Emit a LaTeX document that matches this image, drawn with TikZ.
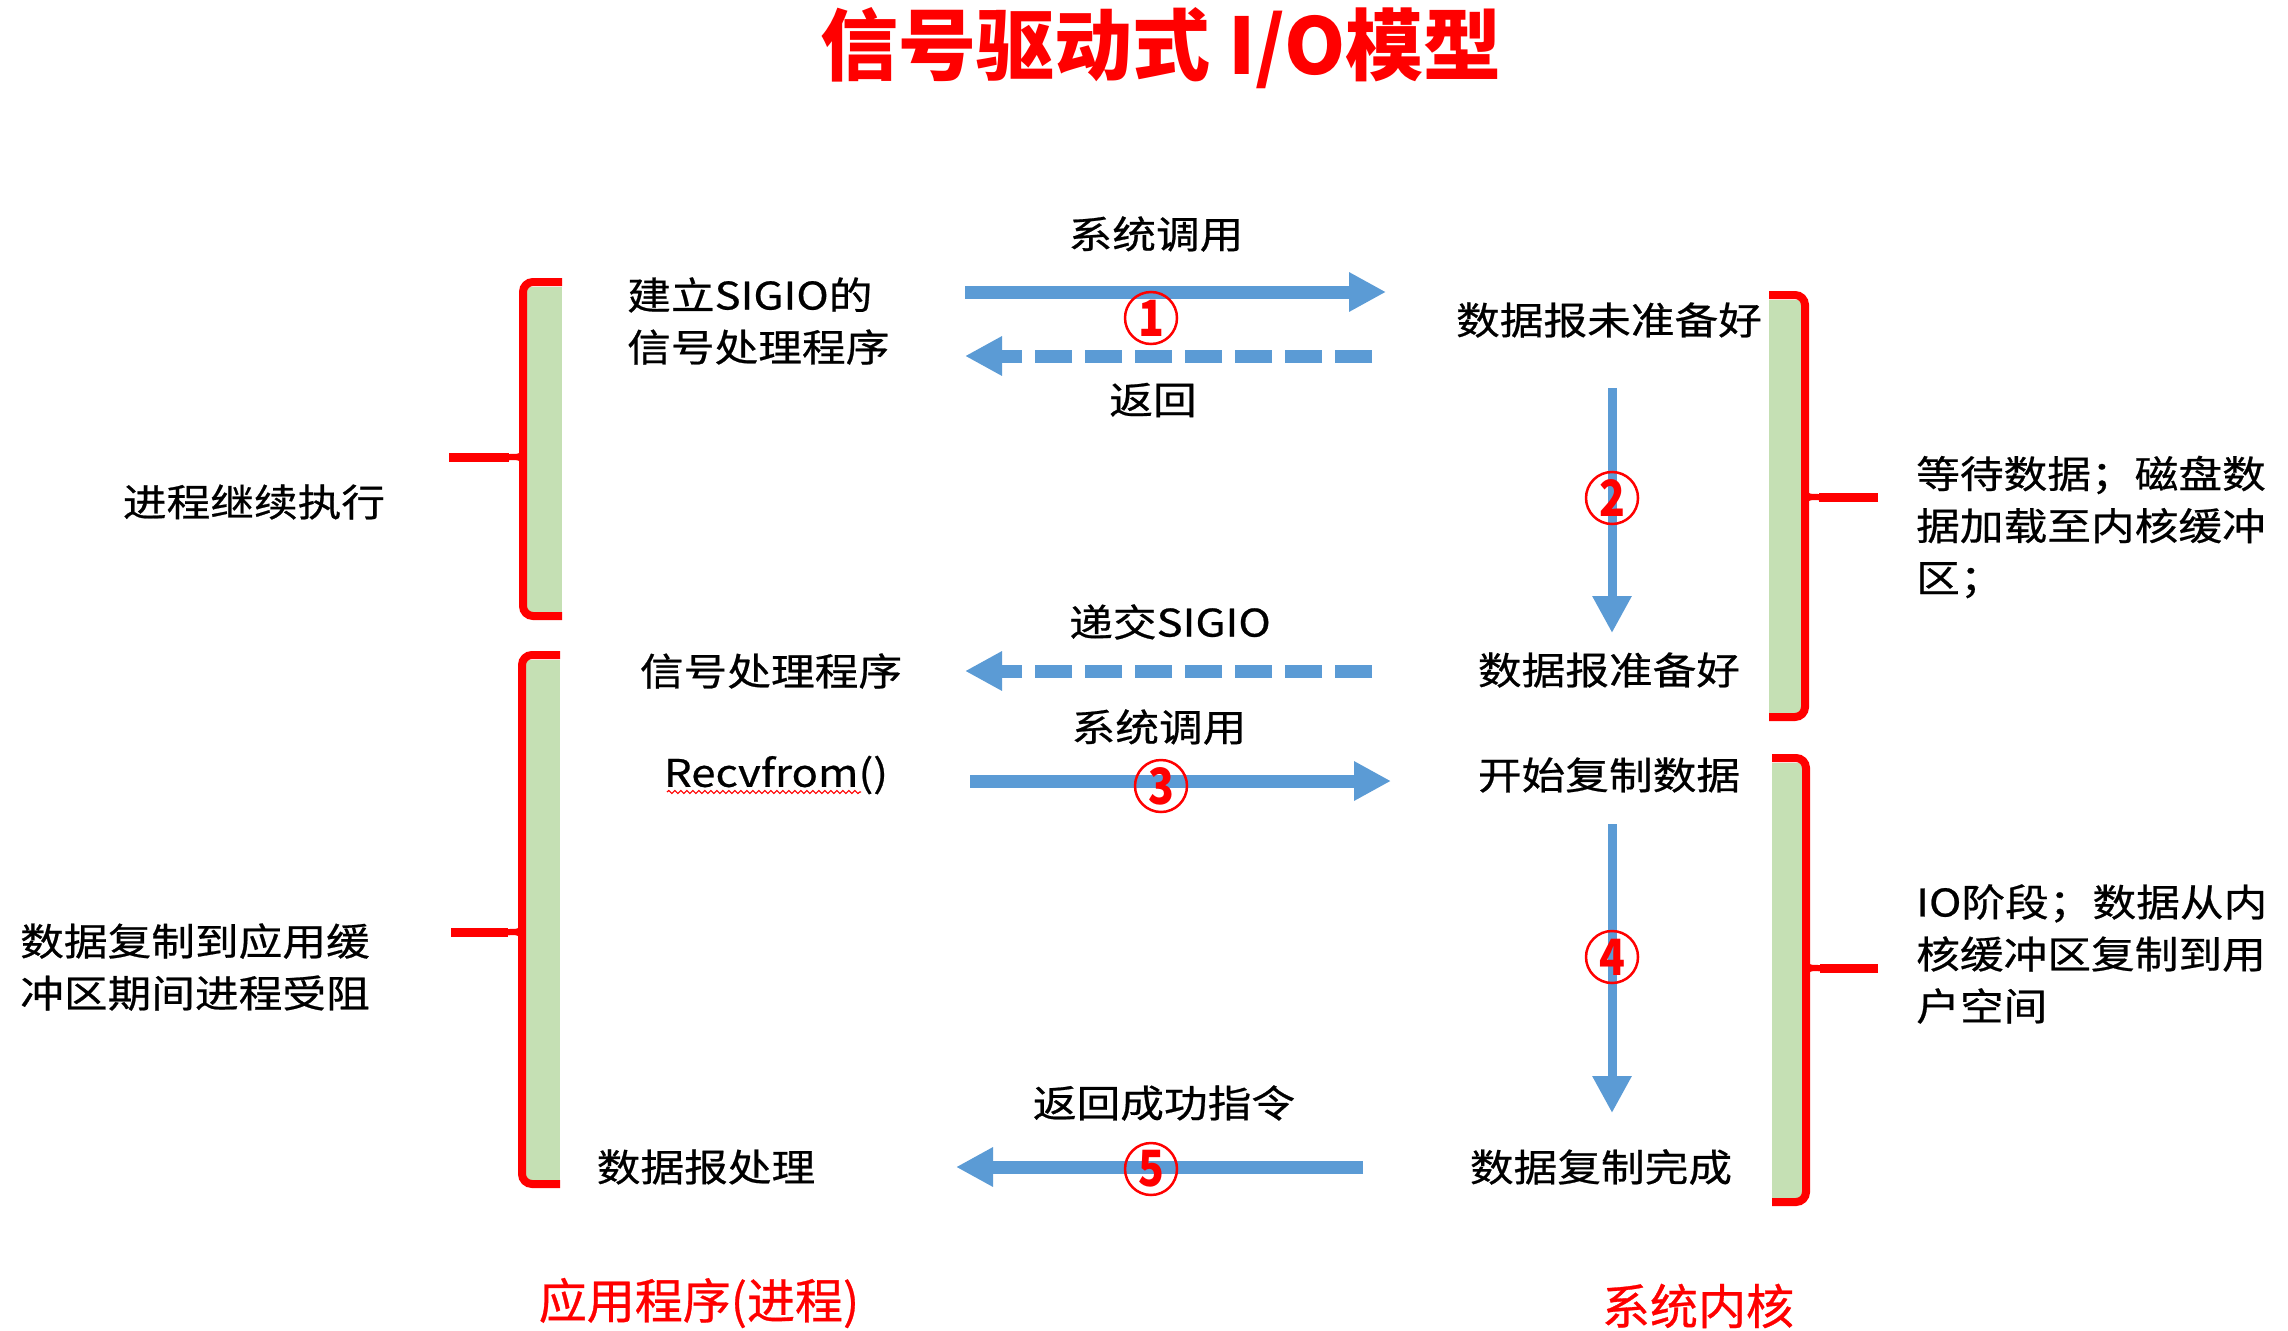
\documentclass[tikz,border=0pt]{standalone}
\usepackage{fontspec}
\setmainfont{Noto Sans CJK SC}[FakeStretch=1.15,FakeBold=0.6]
\newfontfamily\plainfont{Noto Sans CJK SC}[FakeBold=0.6]
\newfontfamily\titlefont{Noto Sans CJK SC}
\newfontfamily\digitfont{Noto Sans CJK SC}[FakeStretch=0.85]
\usetikzlibrary{arrows.meta,decorations.pathmorphing}
\definecolor{arrowblue}{HTML}{5B9BD5}
\definecolor{bargreen}{HTML}{C5E0B4}
\definecolor{bracered}{HTML}{FF0000}
\begin{document}
\begin{tikzpicture}[x=1pt,y=-1pt,
  txt/.style={inner sep=0pt, font=\fontsize{38}{52}\selectfont, text=black},
  ltxt/.style={txt, anchor=west, align=left},
  titletxt/.style={inner sep=0pt, font=\titlefont\fontsize{78}{78}\selectfont\bfseries, text=bracered},
  side/.style={inner sep=0pt, font=\plainfont\fontsize{48}{48}\selectfont, text=bracered},
  num/.style={circle, draw=bracered, line width=2.5pt, minimum size=52pt, inner sep=0pt, text=bracered, font=\digitfont\fontsize{50}{50}\selectfont\bfseries},
  solidarrow/.style={draw=arrowblue, line width=13pt, -{Triangle[length=37pt,width=37pt]}},
  dasharrow/.style={solidarrow, dash pattern=on 37pt off 13pt},
  downarrow/.style={draw=arrowblue, line width=9pt, -{Triangle[length=37pt,width=37pt]}},
  brace/.style={draw=bracered, line width=8pt, rounded corners=10pt},
  bar/.style={fill=bargreen},
  squiggle/.style={draw=bracered, line width=1.2pt, decorate, decoration={snake, amplitude=1.5pt, segment length=6pt}},
]
\fill[white] (0,0) rectangle (2288,1330);
\useasboundingbox (0,0) rectangle (2288,1330);

% green bars
\fill[bar] (526,287) rectangle (562,612);
\fill[bar] (526,660) rectangle (560,1180);
\fill[bar] (1769,300) rectangle (1802,713);
\fill[bar] (1772,763) rectangle (1803,1198);

% braces
\draw[brace] (562,282) -- (523,282) -- (523,616) -- (562,616);
\draw[draw=bracered, line width=9pt] (449,457) -- (509,457);
\draw[draw=bracered, line width=6pt] (509,457) .. controls (523,457) .. (523,441);
\draw[draw=bracered, line width=6pt] (509,457) .. controls (523,457) .. (523,473);

\draw[brace] (560,655) -- (522,655) -- (522,1184) -- (560,1184);
\draw[draw=bracered, line width=9pt] (451,932) -- (508,932);
\draw[draw=bracered, line width=6pt] (508,932) .. controls (522,932) .. (522,916);
\draw[draw=bracered, line width=6pt] (508,932) .. controls (522,932) .. (522,948);

\draw[brace] (1769,295) -- (1805,295) -- (1805,717) -- (1769,717);
\draw[draw=bracered, line width=9pt] (1878,497) -- (1819,497);
\draw[draw=bracered, line width=6pt] (1819,497) .. controls (1805,497) .. (1805,481);
\draw[draw=bracered, line width=6pt] (1819,497) .. controls (1805,497) .. (1805,513);

\draw[brace] (1772,758) -- (1806,758) -- (1806,1202) -- (1772,1202);
\draw[draw=bracered, line width=9pt] (1878,968) -- (1820,968);
\draw[draw=bracered, line width=6pt] (1820,968) .. controls (1806,968) .. (1806,952);
\draw[draw=bracered, line width=6pt] (1820,968) .. controls (1806,968) .. (1806,984);

% texts
\node[titletxt] (title) at (1161,48) {信号驱动式 I/O模型};
\node[ltxt] (setup) at (627,321) {建立SIGIO的\\信号处理程序};
\node[txt] (cont) at (254,502) {进程继续执行};
\node[txt] (sys1) at (1156,234) {系统调用};
\node[txt] (ret) at (1153,400) {返回};
\node[txt] (notready) at (1609,320) {数据报未准备好};
\node[ltxt] (wait) at (1916,527) {等待数据；磁盘数\\据加载至内核缓冲\\区；};
\node[txt] (deliver) at (1170,622) {递交SIGIO};
\node[txt] (handler) at (771,671) {信号处理程序};
\node[txt] (ready) at (1609,670) {数据报准备好};
\node[txt] (sys2) at (1159,727) {系统调用};
\node[txt] (recv) at (776,775) {Recvfrom()};
\node[txt] (startcopy) at (1609,775) {开始复制数据};
\node[ltxt] (blocked) at (20,967) {数据复制到应用缓\\冲区期间进程受阻};
\node[ltxt] (iophase) at (1916,954) {IO阶段；数据从内\\核缓冲区复制到用\\户空间};
\node[txt] (retok) at (1164,1103) {返回成功指令};
\node[txt] (process) at (706,1167) {数据报处理};
\node[txt] (copydone) at (1601,1167) {数据复制完成};
\node[side] (app) at (699,1303) {应用程序(进程)};
\node[side] (kernel) at (1698,1306) {系统内核};

% spelling squiggle under Recvfrom
\coordinate (sqa) at (667,792);
\coordinate (sqb) at (861,792);
\draw[squiggle] (sqa) -- (sqb);

% arrow end points
\coordinate (a1s) at (965,292);  \coordinate (a1e) at (1386,292);
\coordinate (r1s) at (1372,356); \coordinate (r1e) at (965,356);
\coordinate (d2s) at (1612,388); \coordinate (d2e) at (1612,633);
\coordinate (s3s) at (1372,671); \coordinate (s3e) at (965,671);
\coordinate (a4s) at (970,781);  \coordinate (a4e) at (1391,781);
\coordinate (d5s) at (1612,824); \coordinate (d5e) at (1612,1113);
\coordinate (a6s) at (1363,1167); \coordinate (a6e) at (956,1167);

\draw[solidarrow] (a1s) -- (a1e);
\draw[dasharrow] (r1s) -- (r1e);
\draw[downarrow] (d2s) -- (d2e);
\draw[dasharrow] (s3s) -- (s3e);
\draw[solidarrow] (a4s) -- (a4e);
\draw[downarrow] (d5s) -- (d5e);
\draw[solidarrow] (a6s) -- (a6e);

% step numbers
\node[num] (n1) at (1151,318) {1};
\node[num] (n2) at (1612,498) {2};
\node[num] (n3) at (1161,786) {3};
\node[num] (n4) at (1612,957) {4};
\node[num] (n5) at (1151,1169) {5};
\end{tikzpicture}
\end{document}
